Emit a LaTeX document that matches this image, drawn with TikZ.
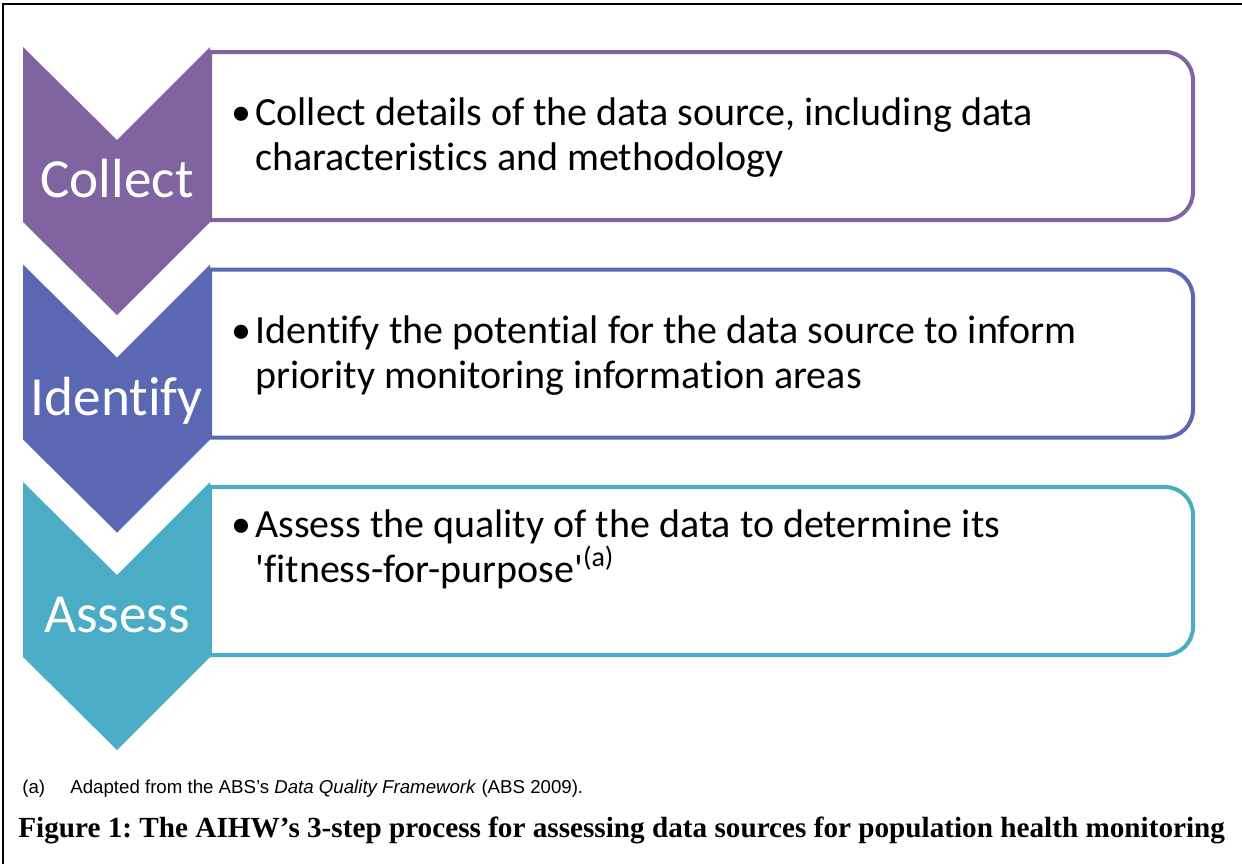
\documentclass[tikz,border=0pt]{standalone}
\usepackage{fontspec}
\setmainfont{Carlito}[Ligatures={TeX,NoCommon}]
\newfontfamily\notefont{Liberation Sans}
\newfontfamily\capfont{Liberation Serif}
\usepackage{tikz}
\definecolor{collectcol}{HTML}{8064A2}
\definecolor{identifycol}{HTML}{5A67B3}
\definecolor{assesscol}{HTML}{4BACC6}
\frenchspacing

\begin{document}
\begin{tikzpicture}[x=0.5pt,y=-0.5pt,
    stepbox/.style={draw=#1,line width=2pt,fill=white},
    steplabel/.style={text=white,font=\fontsize{27.6}{32}\selectfont,anchor=base,inner sep=0pt},
    dot/.style={anchor=base,inner sep=0pt,font=\fontsize{20}{22.5}\selectfont},
    bullettext/.style={anchor=base west,align=left,inner sep=0pt,font=\fontsize{20}{22.5}\selectfont},
    note/.style={anchor=base west,inner sep=0pt,font=\notefont\fontsize{9.33}{11}\selectfont}]
\useasboundingbox (0,0) rectangle (1242,863);
\draw[line width=1pt] (3,880) -- (3,4) -- (1260,4);

% Collect
\begin{scope}[shift={(0,47)}]
\draw[stepbox=collectcol] (210,5) -- (1165,5) arc[start angle=-90,end angle=0,radius=28] -- (1193,145) arc[start angle=0,end angle=90,radius=28] -- (210,173) -- cycle;
\fill[collectcol] (23,0) -- (117,93) -- (210,0) -- (210,175) -- (117,268) -- (23,175) -- cycle;
\node[steplabel] (l1) at (117,150.5) {Collect};
\node[dot] (d1) at (241,78) {\textbullet};
% base of a two-line node is its last line
\node[bullettext] (t1) at (255,123) {Collect details of the data source, including data\\characteristics and methodology};
\end{scope}

% Identify
\begin{scope}[shift={(0,264.5)}]
\draw[stepbox=identifycol] (210,5) -- (1165,5) arc[start angle=-90,end angle=0,radius=28] -- (1193,145) arc[start angle=0,end angle=90,radius=28] -- (210,173) -- cycle;
\fill[identifycol] (23,0) -- (117,93) -- (210,0) -- (210,175) -- (117,268) -- (23,175) -- cycle;
\node[steplabel] (l2) at (117,150.5) {Identify};
\node[dot] (d2) at (241,78.5) {\textbullet};
\node[bullettext] (t2) at (255,123.5) {Identify the potential for the data source to inform\\priority monitoring information areas};
\end{scope}

% Assess
\begin{scope}[shift={(0,482)}]
\draw[stepbox=assesscol] (210,5) -- (1165,5) arc[start angle=-90,end angle=0,radius=28] -- (1193,145) arc[start angle=0,end angle=90,radius=28] -- (210,173) -- cycle;
\fill[assesscol] (23,0) -- (117,93) -- (210,0) -- (210,175) -- (117,268) -- (23,175) -- cycle;
\node[steplabel] (l3) at (117,150.5) {Assess};
\node[dot] (d3) at (241,55) {\textbullet};
\node[bullettext] (t3) at (255,100) {Assess the quality of the data to determine its\\\textquotesingle fitness-for-purpose\textquotesingle\textsuperscript{(a)}};
\end{scope}

% footnote and caption
\node[note] (fa) at (22,793) {(a)};
\node[note] (fn) at (70,793) {Adapted from the ABS’s \textit{Data Quality Framework} (ABS 2009).};
\node[anchor=base west,inner sep=0pt,font=\capfont\bfseries\fontsize{14.6}{17}\selectfont] (cap) at (18,837) {Figure 1: The AIHW’s 3-step process for assessing data sources for population health monitoring};
\end{tikzpicture}
\end{document}
